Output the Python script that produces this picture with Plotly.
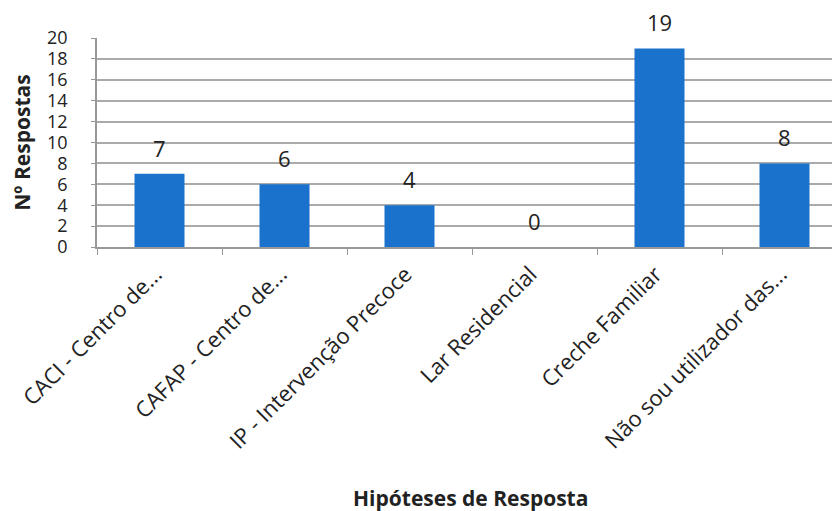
import plotly.graph_objects as go

categories = ["CACI - Centro de...", "CAFAP - Centro de...", "IP - Intervenção Precoce",
              "Lar Residencial", "Creche Familiar", "Não sou utilizador das..."]
values = [7, 6, 4, 0, 19, 8]
y_ticks = list(range(0, 21, 2))

FONT = "Open Sans"
fig = go.Figure()
fig.add_trace(go.Bar(x=categories, y=values, width=0.4, marker_color="#1b72cc",
                     marker_line_width=0, hoverinfo="skip"))

for c, v in zip(categories, values):
    fig.add_annotation(x=c, y=v, text=str(v), showarrow=False, yanchor="bottom",
                       yshift=9, font=dict(family=FONT, size=22, color="#222"))

fig.add_annotation(xref="paper", yref="paper", x=-0.102, y=0.5, text="<b>Nº Respostas</b>",
                   textangle=-90, showarrow=False, xanchor="center", yanchor="middle",
                   font=dict(family=FONT, size=21, color="#222"))
fig.add_annotation(xref="paper", yref="paper", x=0.503, y=-1.20, text="<b>Hipóteses de Resposta</b>",
                   showarrow=False, xanchor="center", yanchor="middle",
                   font=dict(family=FONT, size=21, color="#222"))

fig.update_layout(
    width=840, height=511, margin=dict(l=89, r=8, t=30, b=272, autoexpand=False),
    plot_bgcolor="white", paper_bgcolor="white", showlegend=False, bargap=0.6,
)
fig.update_xaxes(range=[-0.5, 5.444], tickangle=-45, tickson="boundaries", ticks="outside",
                 ticklen=6, tickcolor="#999", showline=True, linecolor="#999", linewidth=1.5,
                 ticklabelstandoff=4, ticklabelshift=-4,
                 tickfont=dict(family=FONT, size=22, color="#222"), automargin=False)
fig.update_yaxes(range=[0, 20], tickvals=y_ticks, showgrid=True, gridcolor="#aaa", gridwidth=1.5,
                 showline=True, linecolor="#999", linewidth=1.5, ticks="outside", ticklen=4,
                 tickcolor="#999", ticklabelstandoff=20, zeroline=False,
                 tickfont=dict(family=FONT, size=18, color="#222"), automargin=False)

fig.write_html("out.html")
